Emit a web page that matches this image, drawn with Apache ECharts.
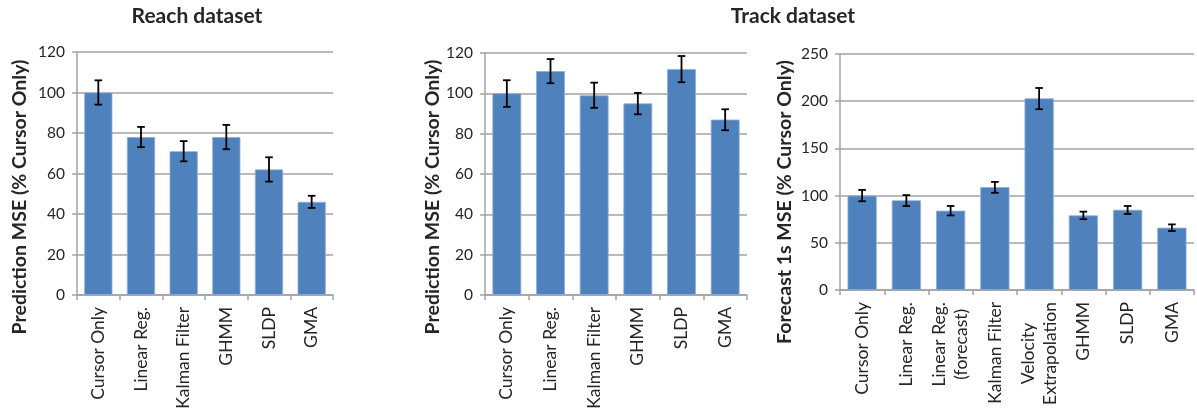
<!DOCTYPE html>
<html>
<head>
<meta charset="utf-8">
<script src="https://cdn.jsdelivr.net/npm/echarts@6/dist/echarts.min.js"></script>
<style>
  html, body { margin: 0; padding: 0; background: #fff; }
  #chart { width: 1197px; height: 414px; }
</style>
</head>
<body>
<div id="chart"></div>
<script>
// Reach dataset: prediction MSE relative to cursor-only baseline
const reachCategories = ['Cursor Only', 'Linear Reg.', 'Kalman Filter', 'GHMM', 'SLDP', 'GMA'];
const reachMSE  = [100, 78, 71, 78, 62, 46];
const reachLow  = [94, 73, 66, 72, 56, 43];
const reachHigh = [106, 83, 76, 84, 68, 49];

// Track dataset: prediction MSE
const trackCategories = ['Cursor Only', 'Linear Reg.', 'Kalman Filter', 'GHMM', 'SLDP', 'GMA'];
const trackMSE  = [100, 111, 99, 95, 112, 87];
const trackLow  = [93.3, 105, 92.8, 89.6, 105.5, 81.7];
const trackHigh = [106.5, 117, 105.3, 100.2, 118.5, 92.1];

// Track dataset: 1 s forecast MSE
const forecastCategories = ['Cursor Only', 'Linear Reg.', 'Linear Reg.\n(forecast)', 'Kalman Filter',
  'Velocity\nExtrapolation', 'GHMM', 'SLDP', 'GMA'];
const forecastMSE  = [100, 95, 84, 109, 203, 79, 85, 66];
const forecastLow  = [94, 89, 79, 103, 191.5, 75, 80.5, 62.5];
const forecastHigh = [106, 100.5, 89, 114.5, 214, 83, 89, 69.5];

// Axis ranges
const percentTicks  = { min: 0, max: 120, interval: 20 };
const forecastTicks = { min: 0, max: 250, interval: 50 };

const FONT = 'Lato, "Open Sans", sans-serif';
const TEXT = '#262626';
const GRID_LINE = '#a3a3a3';
const BAR = '#4f81bd';

const chart = echarts.init(document.getElementById('chart'));

function xAxisFor(gridIndex, cats) {
  return {
    type: 'category', gridIndex, data: cats,
    axisLine: { lineStyle: { color: GRID_LINE, width: 1.5 } },
    axisTick: { show: true, alignWithLabel: false, length: 5, lineStyle: { color: GRID_LINE, width: 1.5 } },
    axisLabel: {
      rotate: 90, margin: 12, interval: 0,
      formatter: v => v.split('\n').map(s => '{c|' + s + '}').join('\n'),
      rich: { c: { align: 'center', fontFamily: FONT, fontSize: 17.5, color: TEXT, lineHeight: 22 } }
    }
  };
}

function yAxisFor(gridIndex, ticks) {
  return {
    type: 'value', gridIndex, min: ticks.min, max: ticks.max, interval: ticks.interval,
    axisLine: { show: true, lineStyle: { color: GRID_LINE, width: 1.5 } },
    axisTick: { show: true, length: 5, lineStyle: { color: GRID_LINE, width: 1.5 } },
    splitLine: { show: true, lineStyle: { color: GRID_LINE, width: 1.5 } },
    axisLabel: { margin: 12, fontFamily: FONT, fontSize: 15.5, color: TEXT }
  };
}

function barSeries(i, values) {
  return {
    type: 'bar', xAxisIndex: i, yAxisIndex: i, data: values,
    barCategoryGap: '34%',
    itemStyle: { color: BAR, borderColor: '#8eaedb', borderWidth: 0.8 },
    silent: true
  };
}

function errorSeries(i, low, high) {
  return {
    type: 'custom', xAxisIndex: i, yAxisIndex: i, silent: true, z: 10,
    data: low.map((l, k) => [k, l, high[k]]),
    encode: { x: 0, y: [1, 2] },
    renderItem(params, api) {
      const idx = api.value(0);
      const lo = api.coord([idx, api.value(1)]);
      const hi = api.coord([idx, api.value(2)]);
      const cap = 3.8;
      const style = { stroke: '#000', lineWidth: 1.8 };
      return {
        type: 'group',
        children: [
          { type: 'line', shape: { x1: lo[0], y1: lo[1], x2: hi[0], y2: hi[1] }, style },
          { type: 'line', shape: { x1: lo[0] - cap, y1: lo[1], x2: lo[0] + cap, y2: lo[1] }, style },
          { type: 'line', shape: { x1: hi[0] - cap, y1: hi[1], x2: hi[0] + cap, y2: hi[1] }, style }
        ]
      };
    }
  };
}

function label(text, x, y, size, rotated) {
  return {
    type: 'text', x, y, rotation: rotated ? Math.PI / 2 : 0, silent: true,
    style: { text, align: 'center', verticalAlign: 'middle',
      fontFamily: FONT, fontWeight: 'bold', fontSize: size, fill: TEXT }
  };
}

chart.setOption({
  animation: false,
  grid: [
    { left: 77, top: 52, width: 256, height: 243 },
    { left: 485, top: 53, width: 262, height: 242 },
    { left: 840, top: 54, width: 354, height: 236 }
  ],
  xAxis: [
    xAxisFor(0, reachCategories),
    xAxisFor(1, trackCategories),
    xAxisFor(2, forecastCategories)
  ],
  yAxis: [
    yAxisFor(0, percentTicks),
    yAxisFor(1, percentTicks),
    yAxisFor(2, forecastTicks)
  ],
  series: [
    barSeries(0, reachMSE), errorSeries(0, reachLow, reachHigh),
    barSeries(1, trackMSE), errorSeries(1, trackLow, trackHigh),
    barSeries(2, forecastMSE), errorSeries(2, forecastLow, forecastHigh)
  ],
  graphic: [
    label('Reach dataset', 197, 16, 21, false),
    label('Track dataset', 793, 16, 21, false),
    label('Prediction MSE (% Cursor Only)', 20, 197, 19.5, true),
    label('Prediction MSE (% Cursor Only)', 433, 197, 19.5, true),
    label('Forecast 1s MSE (% Cursor Only)', 785, 202, 19.5, true)
  ]
});
</script>
</body>
</html>
